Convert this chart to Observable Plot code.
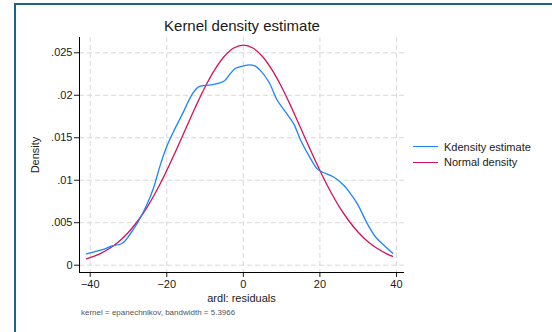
<!DOCTYPE html>
<html>
<head>
<meta charset="utf-8">
<script src="https://cdn.jsdelivr.net/npm/d3@7"></script>
<script src="https://cdn.jsdelivr.net/npm/@observablehq/plot@0.6"></script>
<style>
  html, body { margin: 0; padding: 0; background: #fff; }
  #wrap { position: relative; width: 552px; height: 332px; overflow: hidden; font-family: "Liberation Sans", Arial, sans-serif; }
  #frame { position: absolute; left: 14px; top: 3px; width: 600px; height: 400px; border-top: 2px solid #1f6287; border-left: 2px solid #1f6287; }
  #chart { position: absolute; left: 0; top: 0; }
  .txt { position: absolute; white-space: nowrap; color: #1a1a1a; }
  #title { left: 0; width: 484px; text-align: center; top: 17px; font-size: 15px; line-height: 18px; }
  #xlabel { left: 0; width: 483px; text-align: center; top: 292px; font-size: 11px; line-height: 13px; }
  #ylabel { left: 35px; top: 155px; font-size: 11px; line-height: 13px; transform: translate(-50%, -50%) rotate(-90deg); }
  #caption { left: 81px; top: 308px; font-size: 8px; color: #555; line-height: 10px; }
  .leg { position: absolute; left: 413px; width: 25px; height: 0; }
  .legtxt { position: absolute; left: 444px; font-size: 11px; line-height: 12px; color: #1a1a1a; }
</style>
</head>
<body>
<div id="wrap">
  <div id="frame"></div>
  <div id="chart"></div>
  <div class="txt" id="title">Kernel density estimate</div>
  <div class="txt" id="xlabel">ardl: residuals</div>
  <div class="txt" id="ylabel">Density</div>
  <div class="leg" style="top:146px; border-top:1.5px solid #1a85ff;"></div>
  <div class="legtxt" style="top:140.5px;">Kdensity estimate</div>
  <div class="leg" style="top:161.5px; border-top:1.5px solid #d41159;"></div>
  <div class="legtxt" style="top:156px;">Normal density</div>
  <div class="txt" id="caption">kernel = epanechnikov, bandwidth = 5.3966</div>
</div>
<script>
// Kernel density estimate (blue)
const kdX = [-41, -36, -34.7, -31.6, -29.5, -27.3, -25.1, -23.4, -21.6, -19.9, -18.1, -15.9, -13.3, -11.6, -8.5, -5.1, -3.5, -2, 0, 1.5, 3, 4.5, 6.7, 8.9, 11.1, 13.2, 15, 17.6, 19.3, 20.7, 23.7, 26.3, 28, 29.8, 32.4, 34.6, 36.8, 39];
const kdY = [0.00134, 0.00195, 0.00222, 0.00259, 0.00370, 0.00526, 0.00722, 0.00918, 0.01193, 0.01408, 0.01585, 0.01781, 0.02016, 0.02102, 0.02122, 0.02165, 0.02250, 0.02318, 0.02345, 0.02358, 0.02345, 0.02290, 0.02153, 0.01938, 0.01800, 0.01660, 0.01467, 0.01252, 0.01134, 0.01094, 0.01035, 0.00938, 0.00840, 0.00722, 0.00487, 0.00329, 0.00232, 0.00141];
// Normal density (red)
const ndX = [-41, -37.5, -35, -32.5, -30, -27.5, -25, -22.5, -20, -17.5, -15, -12.5, -10, -7.5, -5, -2.5, 0, 2.5, 5, 7.5, 10, 12.5, 15, 17.5, 20, 22.5, 25, 27.5, 30, 32.5, 35, 37.5, 39];
const ndY = [0.00075, 0.00134, 0.00196, 0.00279, 0.00388, 0.00526, 0.00693, 0.00891, 0.01115, 0.01358, 0.01612, 0.01863, 0.02098, 0.02300, 0.02457, 0.02556, 0.02590, 0.02556, 0.02457, 0.02300, 0.02098, 0.01863, 0.01612, 0.01358, 0.01115, 0.00891, 0.00693, 0.00526, 0.00388, 0.00279, 0.00196, 0.00134, 0.00105];
const xTicks = [-40, -20, 0, 20, 40];
const yTicks = [0, 0.005, 0.01, 0.015, 0.02, 0.025];
const xDomain = [-42.8, 42.1];
const yDomain = [-0.00086, 0.0268];

const kd = kdX.map((x, i) => ({x, y: kdY[i]}));
const nd = ndX.map((x, i) => ({x, y: ndY[i]}));
const yFmt = d => d === 0 ? "0" : d3.format(".3~f")(d).replace(/^0/, "");

const chart = Plot.plot({
  width: 552,
  height: 332,
  marginLeft: 79,
  marginRight: 148,
  marginTop: 37,
  marginBottom: 60,
  style: {fontFamily: '"Liberation Sans", Arial, sans-serif', fontSize: "11px", color: "#1a1a1a", background: "transparent"},
  x: {domain: xDomain},
  y: {domain: yDomain},
  marks: [
    Plot.gridY(yTicks, {stroke: "#d8d8d8", strokeOpacity: 1, strokeDasharray: "5,3"}),
    Plot.gridX(xTicks, {stroke: "#d8d8d8", strokeOpacity: 1, strokeDasharray: "5,3"}),
    Plot.axisY(yTicks, {tickFormat: yFmt, tickSize: 5, tickPadding: 2, label: null, fontSize: 11}),
    Plot.axisX(xTicks, {tickSize: 5, tickPadding: 3, label: null, fontSize: 11}),
    Plot.ruleX([xDomain[0]], {stroke: "#000"}),
    Plot.ruleY([yDomain[0]], {stroke: "#000"}),
    Plot.line(nd, {x: "x", y: "y", stroke: "#d41159", strokeWidth: 1.3, curve: "catmull-rom"}),
    Plot.line(kd, {x: "x", y: "y", stroke: "#1a85ff", strokeWidth: 1.3, curve: "catmull-rom"})
  ]
});
document.getElementById("chart").appendChild(chart);
</script>
</body>
</html>
